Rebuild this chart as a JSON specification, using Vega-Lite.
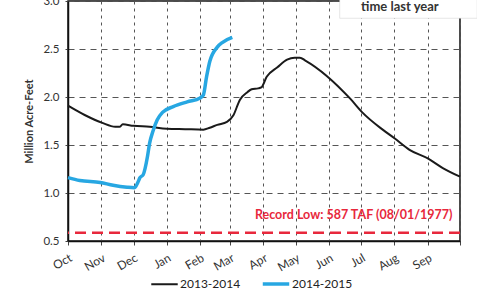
{
  "$schema": "https://vega.github.io/schema/vega-lite/v6.json",
  "width": 392,
  "height": 240,
  "autosize": {"type": "none"},
  "padding": {"left": 68, "top": 1, "right": 17, "bottom": 63},
  "background": "white",
  "config": {
    "font": "Lato",
    "view": {"stroke": "#111", "strokeWidth": 1.5},
    "axis": {"labelFont": "Lato", "titleFont": "Lato", "labelColor": "#333", "titleColor": "#333"}
  },
  "datasets": {
    "storage": [
      {"series": "2013-2014", "day": 0, "maf": 1.91},
      {"series": "2013-2014", "day": 16, "maf": 1.81},
      {"series": "2013-2014", "day": 32, "maf": 1.73},
      {"series": "2013-2014", "day": 44, "maf": 1.69},
      {"series": "2013-2014", "day": 48, "maf": 1.69},
      {"series": "2013-2014", "day": 51, "maf": 1.715},
      {"series": "2013-2014", "day": 61, "maf": 1.70},
      {"series": "2013-2014", "day": 76, "maf": 1.69},
      {"series": "2013-2014", "day": 92, "maf": 1.67},
      {"series": "2013-2014", "day": 109, "maf": 1.665},
      {"series": "2013-2014", "day": 126, "maf": 1.66},
      {"series": "2013-2014", "day": 132, "maf": 1.68},
      {"series": "2013-2014", "day": 139, "maf": 1.71},
      {"series": "2013-2014", "day": 148, "maf": 1.74},
      {"series": "2013-2014", "day": 154, "maf": 1.81},
      {"series": "2013-2014", "day": 160, "maf": 1.97},
      {"series": "2013-2014", "day": 167, "maf": 2.05},
      {"series": "2013-2014", "day": 171, "maf": 2.08},
      {"series": "2013-2014", "day": 177, "maf": 2.09},
      {"series": "2013-2014", "day": 180, "maf": 2.10},
      {"series": "2013-2014", "day": 185, "maf": 2.21},
      {"series": "2013-2014", "day": 195, "maf": 2.31},
      {"series": "2013-2014", "day": 204, "maf": 2.39},
      {"series": "2013-2014", "day": 211, "maf": 2.41},
      {"series": "2013-2014", "day": 216, "maf": 2.41},
      {"series": "2013-2014", "day": 221, "maf": 2.38},
      {"series": "2013-2014", "day": 263, "maf": 1.98},
      {"series": "2013-2014", "day": 274, "maf": 1.84},
      {"series": "2013-2014", "day": 293, "maf": 1.66},
      {"series": "2013-2014", "day": 304, "maf": 1.57},
      {"series": "2013-2014", "day": 318, "maf": 1.45},
      {"series": "2013-2014", "day": 335, "maf": 1.36},
      {"series": "2013-2014", "day": 349, "maf": 1.26},
      {"series": "2013-2014", "day": 365, "maf": 1.17},
      {"series": "2014-2015", "day": 0, "maf": 1.16},
      {"series": "2014-2015", "day": 11, "maf": 1.13},
      {"series": "2014-2015", "day": 30, "maf": 1.11},
      {"series": "2014-2015", "day": 42, "maf": 1.08},
      {"series": "2014-2015", "day": 55, "maf": 1.06},
      {"series": "2014-2015", "day": 62, "maf": 1.055},
      {"series": "2014-2015", "day": 65, "maf": 1.11},
      {"series": "2014-2015", "day": 67, "maf": 1.16},
      {"series": "2014-2015", "day": 70, "maf": 1.19},
      {"series": "2014-2015", "day": 74, "maf": 1.38},
      {"series": "2014-2015", "day": 76, "maf": 1.52},
      {"series": "2014-2015", "day": 79, "maf": 1.64},
      {"series": "2014-2015", "day": 83, "maf": 1.76},
      {"series": "2014-2015", "day": 88, "maf": 1.84},
      {"series": "2014-2015", "day": 98, "maf": 1.90},
      {"series": "2014-2015", "day": 111, "maf": 1.95},
      {"series": "2014-2015", "day": 123, "maf": 1.99},
      {"series": "2014-2015", "day": 126, "maf": 2.02},
      {"series": "2014-2015", "day": 129, "maf": 2.21},
      {"series": "2014-2015", "day": 132, "maf": 2.37},
      {"series": "2014-2015", "day": 139, "maf": 2.52},
      {"series": "2014-2015", "day": 144, "maf": 2.57},
      {"series": "2014-2015", "day": 153, "maf": 2.62}
    ],
    "record": [{"label": "Record Low: 587 TAF (08/01/1977)", "maf": 0.587}]
  },
  "layer": [
    {
      "data": {"name": "storage"},
      "mark": {"type": "line", "interpolate": "monotone"},
      "encoding": {
        "x": {
          "field": "day", "type": "quantitative",
          "scale": {"domain": [0, 365], "nice": false, "zero": false},
          "axis": {
            "title": null,
            "values": [0, 31, 61, 92, 123, 151, 182, 212, 243, 273, 304, 335, 365],
            "tickCount": 30,
            "labelExpr": "['Oct','Nov','Dec','Jan','Feb','Mar','Apr','May','Jun','Jul','Aug','Sep',''][indexof([0,31,61,92,123,151,182,212,243,273,304,335,365], datum.value)]",
            "labelAngle": -30, "labelAlign": "right", "labelBaseline": "top",
            "labelFontSize": 12, "labelPadding": 7, "labelFlush": false, "labelOverlap": false,
            "tickSize": 4, "tickColor": "#444",
            "domainColor": "#111", "domainWidth": 1.5,
            "grid": true, "gridColor": "#555", "gridDash": [3, 4], "gridWidth": 1
          }
        },
        "y": {
          "field": "maf", "type": "quantitative",
          "scale": {"domain": [0.5, 3.0], "nice": false, "zero": false},
          "axis": {
            "title": "Million Acre-Feet", "titleFontSize": 11, "titleFontWeight": "bold", "titlePadding": 8,
            "values": [0.5, 1.0, 1.5, 2.0, 2.5, 3.0], "tickCount": 20, "format": ".1f",
            "labelFontSize": 11.5, "labelPadding": 6, "tickSize": 3, "tickColor": "#444",
            "domainColor": "#111", "domainWidth": 1.5,
            "grid": true, "gridColor": "#555", "gridDash": [6, 5], "gridWidth": 1
          }
        },
        "color": {
          "field": "series", "type": "nominal",
          "scale": {"domain": ["2013-2014", "2014-2015"], "range": ["#1a1a1a", "#27a7e2"]},
          "legend": {
            "title": null, "orient": "none", "direction": "horizontal",
            "legendX": 82, "legendY": 268,
            "symbolType": "stroke", "symbolSize": 700, "symbolStrokeWidth": 3,
            "labelFontSize": 12, "labelColor": "#222", "columnPadding": 14, "labelOffset": 1
          }
        },
        "strokeWidth": {
          "field": "series", "type": "nominal",
          "scale": {"domain": ["2013-2014", "2014-2015"], "range": [2, 3.5]},
          "legend": null
        }
      }
    },
    {
      "data": {"name": "record"},
      "mark": {"type": "rule", "color": "#e8283c", "strokeWidth": 2.5, "strokeDash": [11, 6]},
      "encoding": {"y": {"field": "maf", "type": "quantitative"}}
    },
    {
      "data": {"name": "record"},
      "mark": {"type": "text", "color": "#e8283c", "fontSize": 12.5, "fontWeight": "bold", "align": "right", "baseline": "middle", "dy": -18},
      "encoding": {
        "y": {"field": "maf", "type": "quantitative"},
        "x": {"datum": 358},
        "text": {"field": "label"}
      }
    },
    {
      "data": {"values": [{"note": "time last year"}]},
      "mark": {"type": "rect", "fill": "white", "clip": false, "stroke": "#ccc", "strokeWidth": 0.5},
      "encoding": {
        "x": {"datum": 253}, "x2": {"datum": 381},
        "y": {"datum": 2.82}, "y2": {"datum": 3.03}
      }
    },
    {
      "data": {"values": [{"note": "time last year"}]},
      "mark": {"type": "text", "color": "#333", "fontSize": 13, "fontWeight": "bold", "align": "center", "baseline": "middle"},
      "encoding": {
        "x": {"datum": 309}, "y": {"datum": 2.935},
        "text": {"field": "note"}
      }
    }
  ]
}
